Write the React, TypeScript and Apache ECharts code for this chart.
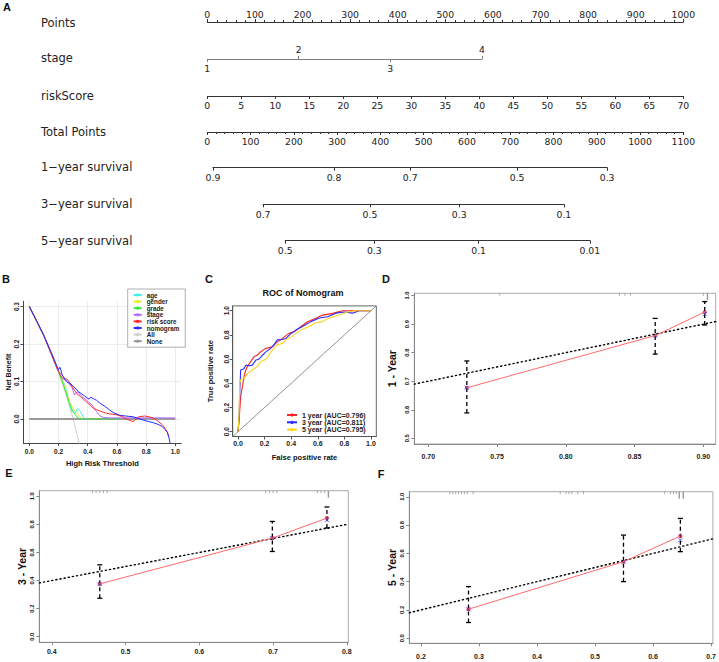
import React, { useEffect, useRef } from 'react';
import * as echarts from 'echarts';

// ---------------- Panel A: nomogram ----------------
const pointsMax = 1000;
const stageLevels = ['1', '2', '3', '4'];
const stagePoints = [0, 192, 384, 577];
const riskScoreMax = 70;
const totalPointsMax = 1100;
const surv1Labels = ['0.9', '0.8', '0.7', '0.5', '0.3'];
const surv1Points = [13, 293, 469, 716, 924];
const surv3Labels = ['0.7', '0.5', '0.3', '0.1'];
const surv3Points = [129, 376, 582, 824];
const surv5Labels = ['0.5', '0.3', '0.1', '0.01'];
const surv5Points = [180, 386, 627, 884];
const nomoRowNames = ['Points', 'stage', 'riskScore', 'Total Points', '1\u2212year survival', '3\u2212year survival', '5\u2212year survival'];

// ---------------- Panel B: decision curves ----------------
const dcaNames = ['age', 'gender', 'grade', 'stage', 'risk score', 'nomogram', 'All', 'None'];
const dcaAge = [[0, 0.3], [0.1, 0.222], [0.19, 0.135], [0.2, 0.126], [0.245, 0.088], [0.268, 0.055], [0.29, 0.02], [0.313, 0.015], [0.33, 0.028], [0.35, 0.02], [0.368, 0.006], [0.384, 0]];
const dcaGender = [[0, 0.3], [0.1, 0.222], [0.19, 0.135], [0.2, 0.126], [0.233, 0.095], [0.256, 0.069], [0.279, 0.042], [0.3, 0.028], [0.325, 0.015], [0.35, 0.006], [0.36, 0]];
const dcaGrade = [[0, 0.3], [0.1, 0.222], [0.19, 0.135], [0.2, 0.126], [0.233, 0.091], [0.256, 0.064], [0.279, 0.037], [0.3, 0.02], [0.325, 0.006], [0.35, 0], [0.62, 0]];
const dcaStage = [[0, 0.3], [0.1, 0.222], [0.19, 0.135], [0.2, 0.128], [0.233, 0.113], [0.268, 0.095], [0.29, 0.086], [0.31, 0.064], [0.33, 0.073], [0.36, 0.06], [0.39, 0.051], [0.43, 0.037], [0.46, 0.02], [0.485, 0.008], [0.51, 0.004], [0.55, 0.003], [1.0, 0.003]];
const dcaRisk = [[0, 0.3], [0.1, 0.222], [0.19, 0.135], [0.2, 0.126], [0.215, 0.115], [0.233, 0.106], [0.255, 0.107], [0.27, 0.101], [0.29, 0.088], [0.31, 0.076], [0.325, 0.068], [0.35, 0.06], [0.37, 0.053], [0.39, 0.046], [0.42, 0.036], [0.44, 0.028], [0.465, 0.024], [0.485, 0.021], [0.53, 0.015], [0.6, 0.011], [0.64, 0.006], [0.67, -0.001], [0.71, -0.007], [0.73, 0], [0.75, 0.006], [0.79, 0.008], [0.84, 0.004], [0.865, -0.001], [0.885, -0.007], [0.91, -0.015], [0.93, -0.025], [0.945, -0.035], [0.955, -0.047]];
const dcaNomogram = [[0, 0.3], [0.05, 0.262], [0.1, 0.222], [0.15, 0.178], [0.19, 0.14], [0.2, 0.132], [0.21, 0.138], [0.225, 0.118], [0.245, 0.104], [0.265, 0.097], [0.28, 0.095], [0.3, 0.088], [0.32, 0.08], [0.336, 0.073], [0.37, 0.064], [0.4, 0.055], [0.41, 0.053], [0.42, 0.058], [0.44, 0.054], [0.46, 0.05], [0.485, 0.042], [0.52, 0.033], [0.55, 0.024], [0.58, 0.016], [0.62, 0.01], [0.66, 0.008], [0.71, 0.006], [0.75, 0.001], [0.78, -0.003], [0.82, -0.007], [0.85, -0.01], [0.88, -0.014], [0.91, -0.02], [0.93, -0.028], [0.945, -0.036], [0.955, -0.048], [0.965, -0.066]];
const dcaAll = [[0, 0.3], [0.1, 0.222], [0.2, 0.125], [0.25, 0.067], [0.3, 0], [0.36, -0.094]];
const dcaNone = [[0, 0], [1, 0]];
const bXTicks = [0, 0.2, 0.4, 0.6, 0.8, 1.0];
const bYTicks = [0, 0.1, 0.2, 0.3];

// ---------------- Panel C: ROC ----------------
const rocNames = ['1 year (AUC=0.796)', '3 year (AUC=0.811)', '5 year (AUC=0.795)'];
const roc1 = [[0, 0], [0.008, 0.096], [0.02, 0.289], [0.033, 0.372], [0.045, 0.455], [0.058, 0.51], [0.07, 0.537], [0.095, 0.579], [0.121, 0.62], [0.146, 0.634], [0.171, 0.661], [0.209, 0.689], [0.259, 0.702], [0.296, 0.744], [0.334, 0.771], [0.384, 0.813], [0.422, 0.826], [0.472, 0.868], [0.523, 0.909], [0.585, 0.937], [0.636, 0.964], [0.711, 0.978], [0.786, 1.0], [1, 1]];
const roc3 = [[0, 0], [0.008, 0.11], [0.013, 0.32], [0.02, 0.51], [0.045, 0.52], [0.058, 0.55], [0.083, 0.545], [0.108, 0.55], [0.133, 0.59], [0.158, 0.6], [0.183, 0.63], [0.209, 0.66], [0.246, 0.69], [0.271, 0.72], [0.296, 0.76], [0.322, 0.76], [0.359, 0.77], [0.397, 0.81], [0.435, 0.84], [0.485, 0.87], [0.548, 0.91], [0.611, 0.94], [0.673, 0.95], [0.736, 0.98], [0.799, 0.99], [0.862, 0.98], [0.912, 1.0], [1, 1]];
const roc5 = [[0, 0], [0.003, 0.04], [0.008, 0.15], [0.013, 0.4], [0.02, 0.43], [0.045, 0.44], [0.07, 0.48], [0.108, 0.51], [0.146, 0.54], [0.171, 0.58], [0.196, 0.59], [0.221, 0.61], [0.246, 0.66], [0.296, 0.72], [0.334, 0.73], [0.359, 0.76], [0.41, 0.79], [0.472, 0.84], [0.535, 0.87], [0.585, 0.9], [0.636, 0.91], [0.686, 0.94], [0.749, 0.96], [0.824, 0.99], [0.887, 1.0], [1, 1]];
const cTicks = [0, 0.2, 0.4, 0.6, 0.8, 1.0];

// ---------------- Panels D/E/F: calibration ----------------
const calDPred = [0.728, 0.865, 0.901];
const calDObs = [0.677, 0.86, 0.942];
const calDCorr = [0.677, 0.86, 0.935];
const calDLo = [0.589, 0.795, 0.897];
const calDHi = [0.771, 0.92, 0.979];
const rugD = [0.752, 0.839, 0.843, 0.847, 0.9];
const rugDDense = [0.903];
const dXTicks = [0.7, 0.75, 0.8, 0.85, 0.9];
const dYTicks = [0.5, 0.6, 0.7, 0.8, 0.9, 1.0];

const calEPred = [0.465, 0.699, 0.773];
const calEObs = [0.376, 0.702, 0.845];
const calECorr = [0.376, 0.702, 0.83];
const calELo = [0.274, 0.607, 0.774];
const calEHi = [0.512, 0.821, 0.924];
const rugE = [0.455, 0.46, 0.465, 0.47, 0.475, 0.69, 0.695, 0.7, 0.705, 0.76, 0.765, 0.77];
const rugEDense = [0.775];
const eXTicks = [0.4, 0.5, 0.6, 0.7, 0.8];
const eYTicks = [0, 0.2, 0.4, 0.6, 0.8, 1.0];

const calFPred = [0.282, 0.549, 0.647];
const calFObs = [0.205, 0.541, 0.722];
const calFCorr = [0.205, 0.541, 0.694];
const calFLo = [0.111, 0.4, 0.612];
const calFHi = [0.365, 0.729, 0.847];
const rugF = [0.25, 0.255, 0.26, 0.265, 0.27, 0.275, 0.28, 0.29, 0.44, 0.45, 0.455, 0.46, 0.47, 0.48, 0.62, 0.63, 0.635, 0.64];
const rugFDense = [0.645, 0.652];
const fXTicks = [0.2, 0.3, 0.4, 0.5, 0.6, 0.7];
const fYTicks = [0, 0.2, 0.4, 0.6, 0.8, 1.0];

// ---------------- helpers ----------------
const FN = 'DejaVu Sans';
const FP = 'Liberation Sans';

function nearestLabel(values: number[], labels: string[], v: number) {
  let bi = 0;
  for (let i = 1; i < values.length; i++) if (Math.abs(values[i] - v) < Math.abs(values[bi] - v)) bi = i;
  return labels[bi];
}

function nomoAxis(gridIndex: number, position: string, min: number, max: number, extra: any = {}, color = '#333') {
  const base: any = {
    type: 'value', gridIndex, position, min, max,
    axisLine: { show: true, onZero: false, lineStyle: { color, width: 1 } },
    axisTick: { show: true, length: 3, lineStyle: { color, width: 1 } },
    axisLabel: { show: true, fontFamily: FN, fontSize: 9.3, color: '#222', margin: 4, formatter: (v: number) => String(v) },
    splitLine: { show: false },
  };
  return {
    ...base, ...extra,
    axisLine: { ...base.axisLine, ...(extra.axisLine || {}) },
    axisTick: { ...base.axisTick, ...(extra.axisTick || {}) },
    axisLabel: { ...base.axisLabel, ...(extra.axisLabel || {}) },
  };
}

function panelAxis(kind: 'x' | 'y', gridIndex: number, min: number, max: number, ticks: number[], digits: number, margin: number, name: string, nameGap: number, opts: any = {}) {
  return {
    type: 'value', gridIndex, min, max,
    axisLine: { show: true, onZero: false, lineStyle: { color: opts.lineColor || '#555', width: 1 } },
    axisTick: { show: true, length: 3, customValues: ticks, lineStyle: { color: opts.lineColor || '#555' } },
    axisLabel: {
      customValues: ticks, formatter: (v: number) => v.toFixed(digits),
      fontFamily: FP, fontWeight: 'bold', fontSize: opts.fontSize || 7, color: '#222', margin,
      rotate: kind === 'y' ? 90 : 0,
    },
    splitLine: { show: !!opts.split, lineStyle: { color: '#ececec', width: 1 } },
    name, nameLocation: 'middle', nameGap,
    nameTextStyle: { fontFamily: FP, fontWeight: 'bold', fontSize: opts.nameSize || 7.5, color: '#111' },
  };
}

function errBarRender(params: any, api: any) {
  const x = api.value(0), lo = api.value(1), hi = api.value(2);
  const a = api.coord([x, lo]);
  const b = api.coord([x, hi]);
  const cap = 2.5;
  const st = { stroke: '#000', lineWidth: 1.3 };
  return {
    type: 'group',
    children: [
      { type: 'line', shape: { x1: a[0], y1: a[1], x2: b[0], y2: b[1] }, style: { ...st, lineDash: [4, 3] } },
      { type: 'line', shape: { x1: b[0] - cap, y1: b[1], x2: b[0] + cap, y2: b[1] }, style: st },
      { type: 'line', shape: { x1: a[0] - cap, y1: a[1], x2: a[0] + cap, y2: a[1] }, style: st },
    ],
  };
}

function rugRender(len: number, color: string, width: number) {
  return (params: any, api: any) => {
    const p = api.coord([api.value(0), api.value(1)]);
    const top = params.coordSys.y;
    return { type: 'line', shape: { x1: p[0], y1: top, x2: p[0], y2: top + len }, style: { stroke: color, lineWidth: width } };
  };
}

function calSeries(xi: number, yi: number, pred: number[], obs: number[], corr: number[], lo: number[], hi: number[], rug: number[], rugDense: number[], xmin: number, xmax: number, ymax: number) {
  const ax = { xAxisIndex: xi, yAxisIndex: yi };
  return [
    { ...ax, type: 'line', data: [[xmin, xmin], [xmax, xmax]], symbol: 'none', silent: true,
      lineStyle: { color: '#000', width: 1.4, type: [1.2, 3], cap: 'round' } },
    { ...ax, type: 'line', data: pred.map((p, i) => [p, obs[i]]), symbol: 'none', lineStyle: { color: '#ff6a6a', width: 1 } },
    { ...ax, type: 'custom', data: pred.map((p, i) => [p, lo[i], hi[i]]), encode: { x: 0, y: [1, 2] }, renderItem: errBarRender },
    { ...ax, type: 'scatter', data: pred.map((p, i) => [p, obs[i]]), symbol: 'circle', symbolSize: 4, itemStyle: { color: '#c0102a' } },
    { ...ax, type: 'scatter', data: pred.map((p, i) => [p, corr[i]]), symbol: 'path://M0 0L10 10M10 0L0 10', symbolSize: 4,
      itemStyle: { color: 'transparent', borderColor: '#3a3aff', borderWidth: 1 } },
    { ...ax, type: 'custom', data: rug.map((r) => [r, ymax]), encode: { x: 0, y: 1 }, renderItem: rugRender(2.5, '#888', 0.7) },
    { ...ax, type: 'custom', data: rugDense.map((r) => [r, ymax]), encode: { x: 0, y: 1 }, renderItem: rugRender(7, '#999', 1.4) },
  ];
}

function buildOption() {
  const NL = 207.3, NW = 476;
  const rowY = [22, 59, 96, 132, 167.7, 204.3, 240.7];
  const tpx = NW / totalPointsMax;
  const grids: any[] = [
    { left: NL, top: rowY[0], width: NW, height: 0 },
    { left: NL, top: rowY[1], width: NW * stagePoints[3] / pointsMax, height: 0 },
    { left: NL, top: rowY[2], width: NW, height: 0 },
    { left: NL, top: rowY[3], width: NW, height: 0 },
    { left: NL + surv1Points[0] * tpx, top: rowY[4], width: (surv1Points[surv1Points.length - 1] - surv1Points[0]) * tpx, height: 0 },
    { left: NL + surv3Points[0] * tpx, top: rowY[5], width: (surv3Points[surv3Points.length - 1] - surv3Points[0]) * tpx, height: 0 },
    { left: NL + surv5Points[0] * tpx, top: rowY[6], width: (surv5Points[surv5Points.length - 1] - surv5Points[0]) * tpx, height: 0 },
    { left: 23.5, top: 301.3, width: 157.7, height: 141.7 },
    { left: 232.7, top: 305.9, width: 143.6, height: 130.6, show: true, borderColor: '#666', borderWidth: 1 },
    { left: 414.3, top: 293.3, width: 301.4, height: 150.7, show: true, borderColor: '#aaa', borderWidth: 1 },
    { left: 39.3, top: 490.7, width: 309, height: 151.6, show: true, borderColor: '#aaa', borderWidth: 1 },
    { left: 409.3, top: 491.7, width: 307.4, height: 151.6, show: true, borderColor: '#aaa', borderWidth: 1 },
  ];

  const survAxis = (gi: number, pts: number[], labels: string[], margin: number) =>
    nomoAxis(gi, 'bottom', pts[0], pts[pts.length - 1], {
      axisTick: { customValues: pts },
      axisLabel: { customValues: pts, formatter: (v: number) => nearestLabel(pts, labels, v), margin },
    });

  const xAxes: any[] = [
    nomoAxis(0, 'top', 0, pointsMax, { interval: 100, minorTick: { show: true, splitNumber: 5, length: 2, lineStyle: { color: '#333' } }, axisLabel: { margin: 3 } }),
    nomoAxis(1, 'bottom', 0, stagePoints[3], {
      axisTick: { customValues: [stagePoints[0], stagePoints[2]] },
      axisLabel: { customValues: [stagePoints[0], stagePoints[2]], formatter: (v: number) => nearestLabel(stagePoints, stageLevels, v), margin: 5 },
    }, '#808080'),
    nomoAxis(1, 'top', 0, stagePoints[3], {
      axisLine: { show: false },
      axisTick: { customValues: [stagePoints[1], stagePoints[3]] },
      axisLabel: { customValues: [stagePoints[1], stagePoints[3]], formatter: (v: number) => nearestLabel(stagePoints, stageLevels, v), margin: 5 },
    }, '#808080'),
    nomoAxis(2, 'bottom', 0, riskScoreMax, { interval: 5, axisLabel: { margin: 4.5 } }),
    nomoAxis(3, 'bottom', 0, totalPointsMax, { interval: 100, minorTick: { show: true, splitNumber: 5, length: 2, lineStyle: { color: '#333' } }, axisLabel: { margin: 4.5 } }),
    survAxis(4, surv1Points, surv1Labels, 5.5),
    survAxis(5, surv3Points, surv3Labels, 5.2),
    survAxis(6, surv5Points, surv5Labels, 5),
    panelAxis('x', 7, -0.04, 1.04, bXTicks, 1, 5, 'High Risk Threshold', 16, { split: true, lineColor: '#444', fontSize: 6.5 }),
    panelAxis('x', 8, -0.04, 1.04, cTicks, 1, 3.5, 'False positive rate', 17, { fontSize: 7 }),
    panelAxis('x', 9, 0.6898, 0.909, dXTicks, 2, 9, '', 0, { lineColor: '#888' }),
    panelAxis('x', 10, 0.383, 0.802, eXTicks, 1, 6, '', 0, { lineColor: '#888' }),
    panelAxis('x', 11, 0.18, 0.703, fXTicks, 1, 10, '', 0, { lineColor: '#888' }),
  ];

  const yAxes: any[] = [];
  for (let i = 0; i < 7; i++) yAxes.push({ type: 'value', gridIndex: i, show: false, min: 0, max: 1 });
  yAxes.push(panelAxis('y', 7, -0.064, 0.314, bYTicks, 1, 4, 'Net Benefit', 12, { split: true, lineColor: '#444', fontSize: 6.5, nameSize: 7 }));
  yAxes.push(panelAxis('y', 8, -0.04, 1.04, cTicks, 1, 2.5, 'True positive rate', 18, { fontSize: 6.5 }));
  yAxes.push(panelAxis('y', 9, 0.48, 1.008, dYTicks, 1, 4, '1 - Year', 17, { lineColor: '#888', fontSize: 5.8, nameSize: 10.5 }));
  yAxes.push(panelAxis('y', 10, -0.04, 1.04, eYTicks, 1, 4.5, '3 - Year', 12, { lineColor: '#888', fontSize: 5.8, nameSize: 10.5 }));
  yAxes.push(panelAxis('y', 11, -0.036, 1.036, fYTicks, 1, 4.5, '5 - Year', 12, { lineColor: '#888', fontSize: 5.8, nameSize: 10.5 }));

  const bAx = { xAxisIndex: 8, yAxisIndex: 7 };
  const dcaLine = (name: string, data: number[][], color: string, width = 1) => ({
    ...bAx, type: 'line', name, data, symbol: 'none', lineStyle: { color, width }, itemStyle: { color },
  });
  const cAx = { xAxisIndex: 9, yAxisIndex: 8 };
  const rocLine = (name: string, data: number[][], color: string) => ({
    ...cAx, type: 'line', name, data, symbol: 'none', lineStyle: { color, width: 1.1 }, itemStyle: { color },
  });

  const series: any[] = [
    dcaLine(dcaNames[6], dcaAll, '#cfcfcf', 1),
    dcaLine(dcaNames[7], dcaNone, '#9a9a9a', 2),
    dcaLine(dcaNames[0], dcaAge, '#3ff0f0'),
    dcaLine(dcaNames[1], dcaGender, '#eaea20'),
    dcaLine(dcaNames[2], dcaGrade, '#3ce63c'),
    dcaLine(dcaNames[3], dcaStage, '#b36bff'),
    dcaLine(dcaNames[4], dcaRisk, '#ff2a2a'),
    dcaLine(dcaNames[5], dcaNomogram, '#2b2bff'),
    { ...cAx, type: 'line', data: [[-0.04, -0.04], [1.04, 1.04]], symbol: 'none', silent: true, lineStyle: { color: '#777', width: 0.8 } },
    rocLine(rocNames[0], roc1, '#ff2424'),
    rocLine(rocNames[1], roc3, '#2a2aff'),
    rocLine(rocNames[2], roc5, '#ffd21a'),
    ...calSeries(10, 9, calDPred, calDObs, calDCorr, calDLo, calDHi, rugD, rugDDense, 0.6898, 0.909, 1.008),
    ...calSeries(11, 10, calEPred, calEObs, calECorr, calELo, calEHi, rugE, rugEDense, 0.383, 0.802, 1.04),
    ...calSeries(12, 11, calFPred, calFObs, calFCorr, calFLo, calFHi, rugF, rugFDense, 0.18, 0.703, 1.036),
  ];

  const letter = (t: string, x: number, y: number) => ({
    type: 'text', x, y, style: { text: t, fontFamily: FP, fontWeight: 'bold', fontSize: 11, fill: '#111', textAlign: 'center', textVerticalAlign: 'middle' },
  });
  const rowLabel = (t: string, y: number) => ({
    type: 'text', x: 41, y, style: { text: t, fontFamily: FN, fontSize: 11.5, fill: '#222', textAlign: 'left', textVerticalAlign: 'middle' },
  });
  const rowLabelY = [23, 58, 96, 132, 167, 204, 241];

  const graphic: any[] = [
    letter('A', 7, 7), letter('B', 6, 279), letter('C', 209, 279), letter('D', 386, 279), letter('E', 9, 473), letter('F', 381, 474),
    ...nomoRowNames.map((n, i) => rowLabel(n, rowLabelY[i])),
    { type: 'text', x: 303, y: 293, style: { text: 'ROC of Nomogram', fontFamily: FP, fontWeight: 'bold', fontSize: 9, fill: '#111', textAlign: 'center', textVerticalAlign: 'middle' } },
  ];

  const legends: any[] = [
    {
      data: dcaNames, orient: 'vertical', left: 127.7, top: 289, itemWidth: 8, itemHeight: 4, itemGap: 0.6,
      padding: [3, 6, 3, 5], borderColor: '#9a9a9a', borderWidth: 0.8, backgroundColor: '#fff', selectedMode: false,
      textStyle: { fontFamily: FP, fontWeight: 'bold', fontSize: 6.3, color: '#222', lineHeight: 6 },
    },
    {
      data: rocNames, orient: 'vertical', left: 286, top: 411.5, itemWidth: 10, itemHeight: 4, itemGap: 0.3,
      padding: 0, selectedMode: false,
      textStyle: { fontFamily: FP, fontWeight: 'bold', fontSize: 7, color: '#222', lineHeight: 6.5 },
    },
  ];

  return {
    animation: false,
    backgroundColor: '#fff',
    grid: grids,
    xAxis: xAxes,
    yAxis: yAxes,
    legend: legends,
    series,
    graphic,
  };
}

export default function App() {
  const ref = useRef<HTMLDivElement>(null);
  useEffect(() => {
    const chart = echarts.init(ref.current!, null, { renderer: 'svg', width: 719, height: 662 });
    chart.setOption(buildOption() as any);
    return () => chart.dispose();
  }, []);
  return <div ref={ref} style={{ position: 'fixed', left: 0, top: 0, width: 719, height: 662, background: '#fff' }} />;
}
